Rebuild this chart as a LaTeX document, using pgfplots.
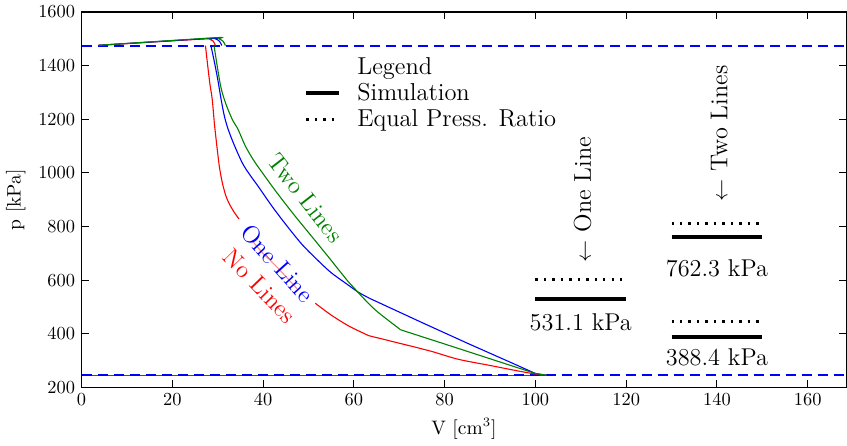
\documentclass[border=0pt]{standalone}
\usepackage{fontspec}
\usepackage{pgfplots}
\pgfplotsset{compat=1.18}
\definecolor{mgreen}{rgb}{0,0.5,0}
\definecolor{dblue}{RGB}{0,0,255}
\newcommand{\annot}{\fontsize{13.2}{15}\selectfont}
\pgfplotsset{refline/.style={color=dblue, line width=1.1pt, dash pattern=on 5.5pt off 3.2pt, forget plot, mark=none}}
\begin{document}
\begin{tikzpicture}
\begin{axis}[
  scale only axis, width=415.8pt, height=204.1pt,
  xmin=0, xmax=168.5, ymin=200, ymax=1600,
  xtick={0,20,...,160}, ytick={200,400,...,1600},
  /pgf/number format/1000 sep={},
  tick align=inside, major tick length=4pt,
  axis line style={line width=0.8pt},
  every tick/.style={black, line width=0.6pt},
  xlabel={V [cm$^3$]}, ylabel={p [kPa]},
  label style={font=\fontsize{10.6}{12}\selectfont},
  tick label style={font=\normalsize},
  legend style={draw=none, fill=none, at={(axis cs:49,1440)}, anchor=north west,
    font=\fontsize{13.3}{14}\selectfont, inner sep=0pt, row sep=1.5pt,
    nodes={inner sep=1pt},
    /tikz/every odd column/.append style={column sep=8pt}},
  legend cell align=left,
  legend image code/.code={\draw[#1] (0cm,0cm) -- (0.62cm,0cm);},
]
\addlegendimage{empty legend}\addlegendentry{Legend}
\addlegendimage{black, line width=2.2pt}\addlegendentry{Simulation}
\addlegendimage{black, line width=1.6pt, dash pattern=on 1.3pt off 3.3pt}\addlegendentry{Equal Press. Ratio}

\addplot[refline] coordinates {(0,1475) (168.5,1475)};

% bottom lines
\addplot[red, line width=0.6pt, forget plot] coordinates {(0,245) (102.5,245)};
\addplot[blue, line width=0.6pt, forget plot] coordinates {(0,245) (102.5,245)};
\addplot[mgreen, line width=0.6pt, forget plot] coordinates {(0,245) (102.5,245)};

\addplot[refline] coordinates {(0,245) (168.5,245)};

% top lines
\addplot[red, line width=0.6pt, forget plot, smooth] coordinates {(3.8,1476) (27.3,1500) (28.2,1499) (29.0,1492) (29.5,1475)};
\addplot[blue, line width=0.6pt, forget plot, smooth] coordinates {(3.8,1476) (28.5,1502) (29.5,1500) (30.4,1491) (30.9,1475)};
\addplot[mgreen, line width=0.6pt, forget plot, smooth] coordinates {(3.8,1476) (29.2,1504) (30.2,1501) (31.2,1491) (31.7,1475)};

% red descending (with label gaps)
\addplot[red, line width=0.6pt, forget plot, smooth] coordinates {
(27.3,1475) (27.8,1400) (28.3,1330) (28.8,1274) (29.3,1180) (29.9,1088) (30.4,1020)
(31.0,965) (31.7,920) (32.4,890) (33.5,857) (34.7,828)};
\addplot[red!45, line width=0.6pt, forget plot, smooth] coordinates {
(37.6,747) (40,700) (43,650) (47.5,568)};
\addplot[red, line width=0.6pt, forget plot, smooth] coordinates {
(51.5,514) (55,470) (59,428) (63.3,393)};
\addplot[red, line width=0.6pt, forget plot, smooth] coordinates {
(63.3,393) (70,365) (77,335) (83,305) (90,282) (96,262) (100,250) (102.5,245)};

% blue descending
\addplot[blue, line width=0.6pt, forget plot, smooth] coordinates {
(28.5,1475) (29.2,1420) (30.0,1350) (30.8,1270) (31.5,1210) (32.3,1163) (33.5,1110)
(35.4,1038) (37,995) (39,948) (42,875) (45,808) (48.6,733) (52,675) (55,628)
(58.5,585) (61,555) (63.5,532)};
\addplot[blue, line width=0.6pt, forget plot] coordinates {
(63.5,532) (75,442) (85,365) (95,290) (100,252) (102.5,245)};

% green descending
\addplot[mgreen, line width=0.6pt, forget plot, smooth] coordinates {
(29.2,1475) (29.9,1398) (30.7,1320) (31.7,1262) (33.2,1200) (34.5,1162) (36.1,1100)
(38,1045) (40,997) (42,950) (44,905) (47,840) (50,778) (54,695) (58.5,600) (60,572)
(62,535) (65,485) (70.3,415)};
\addplot[mgreen, line width=0.6pt, forget plot] coordinates {
(70.3,415) (80,362) (90,307) (100,252) (102.5,245)};

% one line bars
\addplot[black, line width=2.2pt, forget plot] coordinates {(100,531.1) (120,531.1)};
\addplot[black, line width=1.6pt, dash pattern=on 1.3pt off 3.3pt, forget plot] coordinates {(100,601.1) (120,601.1)};
% two lines bars
\addplot[black, line width=2.2pt, forget plot] coordinates {(130,762.3) (150,762.3)};
\addplot[black, line width=2.2pt, forget plot] coordinates {(130,388.4) (150,388.4)};
\addplot[black, line width=1.6pt, dash pattern=on 1.3pt off 3.3pt, forget plot] coordinates {(130,810.8) (150,810.8)};
\addplot[black, line width=1.6pt, dash pattern=on 1.3pt off 3.3pt, forget plot] coordinates {(130,445.7) (150,445.7)};

\node[font=\annot] at (axis cs:110,441) {531.1 kPa};
\node[font=\annot] at (axis cs:140,646) {762.3 kPa};
\node[font=\annot] at (axis cs:140,311) {388.4 kPa};
\node[font=\annot, rotate=90] at (axis cs:110.4,900) {$\leftarrow$ One Line};
\node[font=\annot, rotate=90] at (axis cs:140.5,1147) {$\leftarrow$ Two Lines};

\node[font=\annot, text=mgreen, rotate=-52] at (axis cs:49.4,907) {Two Lines};
\node[font=\annot, text=blue, rotate=-48] at (axis cs:43.2,662) {One Line};
\node[font=\annot, text=red, rotate=-46] at (axis cs:39.3,577) {No Lines};
\end{axis}
\end{tikzpicture}
\end{document}
